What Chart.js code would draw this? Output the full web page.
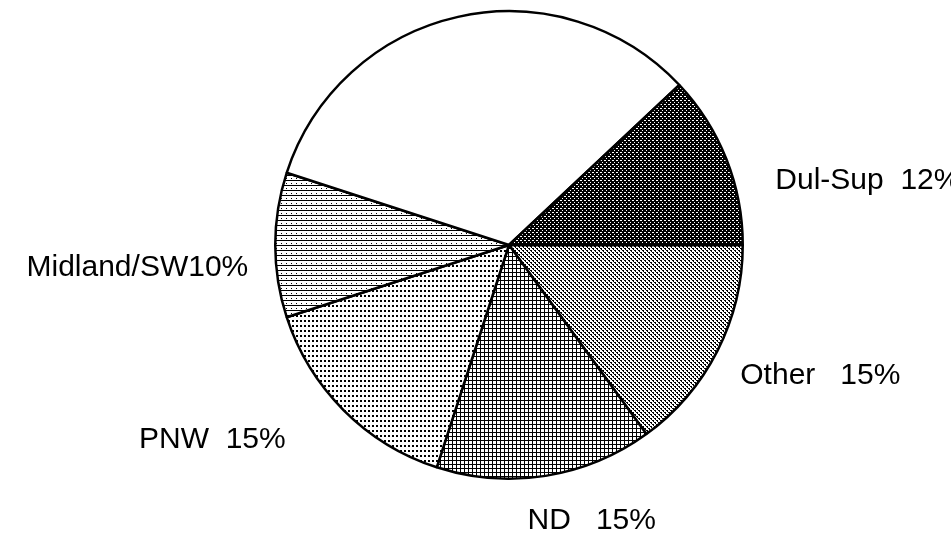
<!DOCTYPE html>
<html lang="en">
<head>
  <meta charset="UTF-8">
  <title>Market shares</title>
  <script src="https://cdn.jsdelivr.net/npm/chart.js"></script>
  <style>
    html, body { margin: 0; padding: 0; background: #fff; }
    canvas { display: block; }
  </style>
</head>
<body>
  <canvas id="chartShares" width="951" height="537"></canvas>
  <script>
    // Slices clockwise from 3 o'clock
    const categories = ['Other', 'ND', 'PNW', 'Midland/SW', '', 'Dul-Sup'];
    const shares = [15, 15, 15, 10, 33, 12];
    // gap between name and percent in each label
    const gaps = ['   ', '   ', '  ', '', '', '  '];

    // Label placement: offset from the slice's outer edge at mid angle
    const labelOffsets = [[23, 25, 'left'], [-18, 45, 'left'], [-58, 29, 'right'], [-27, 23, 'right'], null, [49, 22, 'left']];

    // Monochrome fill patterns, built from small pixel tiles
    function tile(w, h, bg, fg, pixels) {
      const c = document.createElement('canvas');
      c.width = w; c.height = h;
      const g = c.getContext('2d');
      g.fillStyle = bg; g.fillRect(0, 0, w, h);
      g.fillStyle = fg;
      pixels.forEach(p => g.fillRect(p[0], p[1], p[2] || 1, p[3] || 1));
      return g.createPattern(c, 'repeat');
    }

    const fills = [
      // Other: medium grey stipple
      tile(4, 4, '#fff', '#000', [[0, 0, 2, 1], [2, 2, 2, 1], [1, 1], [3, 3]]),
      // ND: square grid
      tile(4, 4, '#fff', '#000', [[0, 0, 4, 1], [0, 0, 1, 4]]),
      // PNW: fine dots
      tile(4, 5, '#fff', '#000', [[0, 0, 2, 2]]),
      // Midland/SW: horizontal lines
      tile(5, 5, '#fff', '#000', [[0, 0, 5, 1], [1, 3, 1, 1]]),
      // remainder: plain white
      '#ffffff',
      // Dul-Sup: dark crosshatch
      tile(4, 4, '#000', '#fff', [[0, 0], [2, 2], [1, 0]])
    ];

    const sliceLabels = {
      id: 'sliceLabels',
      afterDraw(chart) {
        const ctx = chart.ctx;
        const arcs = chart.getDatasetMeta(0).data;
        ctx.save();
        ctx.font = '30px "Liberation Sans", Arial, sans-serif';
        ctx.fillStyle = '#000';
        ctx.textBaseline = 'middle';
        arcs.forEach((arc, i) => {
          const off = labelOffsets[i];
          if (!off || !categories[i]) return;
          const mid = (arc.startAngle + arc.endAngle) / 2;
          const x = arc.x + Math.cos(mid) * arc.outerRadius + off[0];
          const y = arc.y + Math.sin(mid) * arc.outerRadius + off[1];
          ctx.textAlign = off[2];
          ctx.fillText(categories[i] + gaps[i] + shares[i] + '%', x, y);
        });
        ctx.restore();
      }
    };

    const ctxShares = document.getElementById('chartShares').getContext('2d');
    const chartShares = new Chart(ctxShares, {
      type: 'pie',
      data: {
        labels: categories,
        datasets: [{
          data: shares,
          backgroundColor: fills,
          borderColor: '#000',
          borderWidth: 2.5,
          hoverOffset: 0
        }]
      },
      options: {
        responsive: false,
        animation: false,
        rotation: 90,
        layout: { padding: { left: 67, right: 0, top: 10, bottom: 57 } },
        plugins: {
          legend: { display: false },
          tooltip: { enabled: false }
        }
      },
      plugins: [sliceLabels]
    });
  </script>
</body>
</html>
